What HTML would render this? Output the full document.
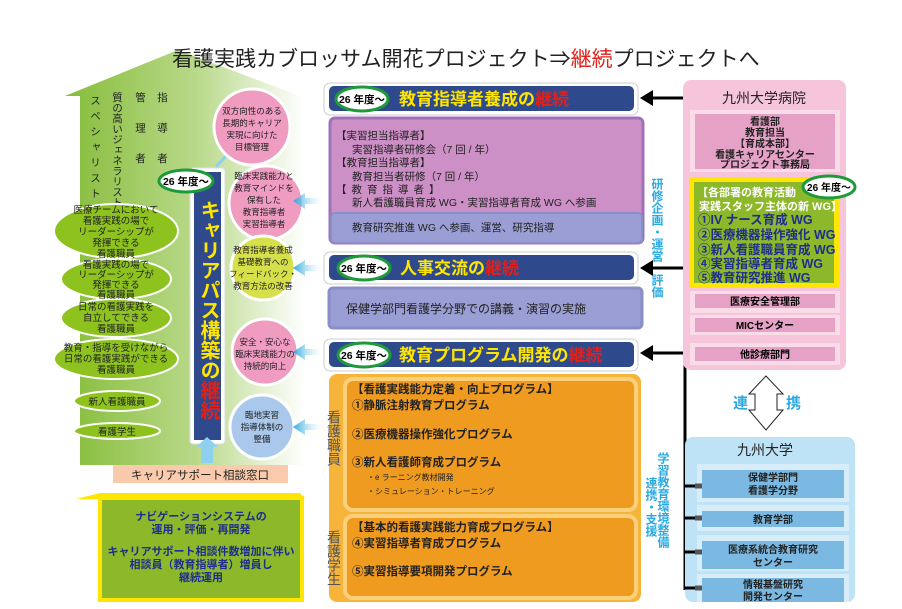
<!DOCTYPE html>
<html><head><meta charset="utf-8">
<style>
html,body{margin:0;padding:0;background:#fff;}
svg{display:block;font-family:"Liberation Sans","Noto Sans CJK JP",sans-serif;}
.b{font-weight:bold}
</style></head>
<body>
<svg width="902" height="609" viewBox="0 0 902 609" xmlns="http://www.w3.org/2000/svg">
<defs>
<linearGradient id="ga" x1="0" x2="1" y1="0" y2="0">
<stop offset="0" stop-color="#86bd3a"/><stop offset="0.55" stop-color="#b9d98a"/><stop offset="1" stop-color="#ffffff"/>
</linearGradient>
<linearGradient id="ar" x1="1" x2="0" y1="0" y2="0">
<stop offset="0" stop-color="#ffffff" stop-opacity="0"/><stop offset="1" stop-color="#29a9e0"/>
</linearGradient>
</defs>

<!-- big arrow -->
<polygon points="178,50 300,96 305,96 305,465 80,465 80,96 65,96" fill="url(#ga)"/>

<!-- title -->
<text x="172" y="66" font-size="21" fill="#222">看護実践カブロッサム開花プロジェクト⇒<tspan fill="#e0201a">継続</tspan>プロジェクトへ</text>

<!-- vertical column texts -->
<g font-size="10.5" fill="#222">
<text x="95" y="95" writing-mode="tb" letter-spacing="5">スペシャリスト</text>
<text x="117" y="92" writing-mode="tb">質の高いジェネラリスト</text>
<text x="140" y="92" writing-mode="tb" letter-spacing="20">管理者</text>
<text x="162" y="92" writing-mode="tb" letter-spacing="20">指導者</text>
</g>

<!-- left ellipses -->
<g stroke="#fff" stroke-width="2" fill="#8dc21f">
<ellipse cx="116" cy="231" rx="62" ry="27"/>
<ellipse cx="116" cy="279" rx="55" ry="20"/>
<ellipse cx="116" cy="318" rx="55" ry="19"/>
<ellipse cx="116" cy="359" rx="62" ry="20"/>
<ellipse cx="117" cy="401" rx="43" ry="10"/>
<ellipse cx="117" cy="431" rx="43" ry="8"/>
</g>
<g font-size="9.5" fill="#222" text-anchor="middle">
<text x="116" y="213">医療チームにおいて</text><text x="116" y="224">看護実践の場で</text><text x="116" y="235">リーダーシップが</text><text x="116" y="246">発揮できる</text><text x="116" y="257">看護職員</text>
<text x="116" y="268">看護実践の場で</text><text x="116" y="278">リーダーシップが</text><text x="116" y="288">発揮できる</text><text x="116" y="298">看護職員</text>
<text x="116" y="310">日常の看護実践を</text><text x="116" y="321">自立してできる</text><text x="116" y="332">看護職員</text>
<text x="116" y="351">教育・指導を受けながら</text><text x="116" y="362">日常の看護実践ができる</text><text x="116" y="373">看護職員</text>
<text x="117" y="405">新人看護職員</text>
<text x="117" y="435">看護学生</text>
</g>

<!-- blue center bar -->
<rect x="190" y="168" width="35" height="276" fill="#fff" rx="3" stroke="#ddd"/>
<rect x="194" y="172" width="27" height="268" fill="#2e4a8c"/>
<text x="208" y="200" writing-mode="tb" font-size="20" class="b" fill="#ffe600">キャリアパス構築の<tspan fill="#e0201a">継続</tspan></text>
<ellipse cx="186" cy="181" rx="27" ry="11" fill="#fff" stroke="#1e9a3a" stroke-width="3"/>
<text x="186" y="185" font-size="10.5" text-anchor="middle" class="b">26 年度〜</text>
<polygon points="201,463 201,447 196,447 207,437 218,447 213,447 213,463" fill="#8fd0f0"/>
<polygon points="215,165 228,152 222,150 237,145 232,160 229,155 217,168" fill="#8fd0f0"/>

<!-- right circles -->
<g stroke="#fff" stroke-width="3">
<circle cx="252" cy="127" r="38" fill="#f09cc0"/>
<circle cx="266" cy="203" r="37" fill="#f09cc0"/>
<circle cx="263" cy="268" r="32" fill="#d6e04a"/>
<circle cx="265" cy="352" r="33" fill="#f09cc0"/>
<circle cx="262" cy="427" r="32" fill="#a9c8ec"/>
</g>
<g font-size="8.5" fill="#222" text-anchor="middle">
<text x="252" y="114">双方向性のある</text><text x="252" y="126">長期的キャリア</text><text x="252" y="138">実現に向けた</text><text x="252" y="150">目標管理</text>
<text x="264" y="179">臨床実践能力と</text><text x="264" y="191">教育マインドを</text><text x="264" y="203">保有した</text><text x="264" y="215">教育指導者</text><text x="264" y="227">実習指導者</text>
<text x="263" y="253">教育指導者養成</text><text x="263" y="265">基礎教育への</text><text x="263" y="277">フィードバック・</text><text x="263" y="289">教育方法の改善</text>
<text x="265" y="345">安全・安心な</text><text x="265" y="357">臨床実践能力の</text><text x="265" y="369">持続的向上</text>
<text x="262" y="418">臨地実習</text><text x="262" y="430">指導体制の</text><text x="262" y="442">整備</text>
</g>
<g fill="url(#ar)">
<polygon points="325,204 305,204 305,209 293,201 305,193 305,198 325,198"/>
<polygon points="325,271 305,271 305,276 293,268 305,260 305,265 325,265"/>
<polygon points="325,355 305,355 305,360 293,352 305,344 305,349 325,349"/>
<polygon points="325,430 305,430 305,435 293,427 305,419 305,424 325,424"/>
</g>

<!-- career support -->
<rect x="113" y="465" width="175" height="18" fill="#f9cbac"/>
<text x="200" y="479" font-size="11.5" text-anchor="middle" fill="#222">キャリアサポート相談窓口</text>

<!-- house -->
<polygon points="76,499 100,493 300,493 305,499" fill="#ffe600"/>
<rect x="100" y="498" width="202" height="102" fill="#8cb82a" stroke="#ffe600" stroke-width="4"/>
<g font-size="11" class="b" fill="#1e2e8c" text-anchor="middle">
<text x="201" y="520">ナビゲーションシステムの</text><text x="201" y="533">運用・評価・再開発</text>
<text x="201" y="555">キャリアサポート相談件数増加に伴い</text><text x="201" y="568">相談員（教育指導者）増員し</text><text x="201" y="581">継続運用</text>
</g>

<!-- middle column headers -->
<g>
<rect x="324" y="83" width="314" height="32" rx="6" fill="#fff" stroke="#ccc"/>
<rect x="329" y="86" width="305" height="25" rx="5" fill="#2e4a8c"/>
<rect x="324" y="252" width="314" height="32" rx="6" fill="#fff" stroke="#ccc"/>
<rect x="329" y="255" width="305" height="25" rx="5" fill="#2e4a8c"/>
<rect x="324" y="339" width="314" height="32" rx="6" fill="#fff" stroke="#ccc"/>
<rect x="329" y="342" width="305" height="25" rx="5" fill="#2e4a8c"/>
</g>
<g fill="#fff" stroke="#1e9a3a" stroke-width="3">
<ellipse cx="362" cy="99" rx="26" ry="12"/>
<ellipse cx="364" cy="268" rx="26" ry="12"/>
<ellipse cx="364" cy="355" rx="26" ry="12"/>
</g>
<g font-size="10.5" class="b" text-anchor="middle">
<text x="362" y="103">26 年度〜</text><text x="364" y="272">26 年度〜</text><text x="364" y="359">26 年度〜</text>
</g>
<g font-size="17" class="b" fill="#ffe600">
<text x="399" y="105">教育指導者養成の<tspan fill="#e0201a">継続</tspan></text>
<text x="400" y="274">人事交流の<tspan fill="#e0201a">継続</tspan></text>
<text x="399" y="361">教育プログラム開発の<tspan fill="#e0201a">継続</tspan></text>
</g>

<!-- pink box -->
<rect x="330" y="118" width="313" height="125" rx="5" fill="#cc8fc6" stroke="#a070b8" stroke-width="3"/>
<rect x="331" y="213" width="311" height="30" rx="4" fill="#9a9ed4" stroke="#8a8ec8" stroke-width="2"/>
<g font-size="10.5" fill="#222">
<text x="336" y="139">【実習担当指導者】</text>
<text x="352" y="153">実習指導者研修会（7 回 / 年）</text>
<text x="336" y="166">【教育担当指導者】</text>
<text x="352" y="180">教育担当者研修（7 回 / 年）</text>
<text x="336" y="193" letter-spacing="5">【教育指導者】</text>
<text x="352" y="206">新人看護職員育成 WG・実習指導者育成 WG へ参画</text>
<text x="352" y="231">教育研究推進 WG へ参画、運営、研究指導</text>
</g>

<!-- lavender box -->
<rect x="329" y="288" width="313" height="40" rx="4" fill="#9a9ed4" stroke="#8a8ec8" stroke-width="3"/>
<text x="346" y="313" font-size="12" fill="#222">保健学部門看護学分野での講義・演習の実施</text>

<!-- orange box -->
<rect x="329" y="374" width="312" height="228" rx="8" fill="#f6b53a"/>
<rect x="345" y="379" width="291" height="131" rx="8" fill="#ef9b20" stroke="#fbd07a" stroke-width="4"/>
<rect x="345" y="516" width="291" height="82" rx="8" fill="#ef9b20" stroke="#fbd07a" stroke-width="4"/>
<g font-size="14" fill="#555">
<text x="334" y="410" writing-mode="tb">看護職員</text>
<text x="334" y="530" writing-mode="tb">看護学生</text>
</g>
<g font-size="11.5" class="b" fill="#222">
<text x="352" y="393">【看護実践能力定着・向上プログラム】</text>
<text x="352" y="409">①静脈注射教育プログラム</text>
<text x="352" y="438">②医療機器操作強化プログラム</text>
<text x="352" y="466">③新人看護師育成プログラム</text>
<text x="352" y="531">【基本的看護実践能力育成プログラム】</text>
<text x="352" y="547">④実習指導者育成プログラム</text>
<text x="352" y="575">⑤実習指導要項開発プログラム</text>
</g>
<g font-size="8" fill="#222">
<text x="367" y="480">・e ラーニング教材開発</text>
<text x="367" y="494">・シミュレーション・トレーニング</text>
</g>

<!-- vertical cyan labels -->
<g font-size="12" class="b" fill="#29a9e0">
<text x="657" y="178" writing-mode="tb">研修企画・運営・評価</text>
<text x="663" y="452" writing-mode="tb">学習教育環境整備</text>
<text x="651" y="477" writing-mode="tb">連携・支援</text>
</g>

<!-- black connector -->
<g stroke="#000" stroke-width="3" fill="none">
<line x1="685" y1="98" x2="685" y2="590"/>
<line x1="650" y1="98" x2="685" y2="98"/>
<line x1="650" y1="268" x2="685" y2="268"/>
<line x1="650" y1="353" x2="685" y2="353"/>
<line x1="685" y1="140" x2="697" y2="140"/>
<line x1="685" y1="232" x2="697" y2="232"/>
<line x1="685" y1="300" x2="697" y2="300"/>
<line x1="685" y1="325" x2="697" y2="325"/>
<line x1="685" y1="355" x2="697" y2="355"/>
</g>
<g fill="#000">
<polygon points="640,98 653,90 653,106"/>
<polygon points="640,268 653,260 653,276"/>
<polygon points="640,353 653,345 653,361"/>
</g>

<!-- hospital -->
<rect x="683" y="80" width="163" height="290" rx="8" fill="#f6c5dc"/>
<text x="764" y="103" font-size="14" text-anchor="middle" fill="#222">九州大学病院</text>
<rect x="690" y="110" width="150" height="62" fill="#f9dce8"/>
<rect x="695" y="114" width="140" height="55" fill="#e6a2c6"/>
<g font-size="10" class="b" fill="#222" text-anchor="middle">
<text x="765" y="125">看護部</text><text x="765" y="136">教育担当</text><text x="765" y="147">【育成本部】</text><text x="765" y="158">看護キャリアセンター</text><text x="765" y="168">プロジェクト事務局</text>
</g>
<rect x="689" y="177" width="150" height="111" fill="#ffe600"/>
<rect x="694" y="182" width="140" height="101" fill="#8cb82a"/>
<g font-size="11" class="b" fill="#fff">
<text x="697" y="196">【各部署の教育活動</text><text x="699" y="210">実践スタッフ主体の新 WG】</text>
</g>
<g font-size="12.5" class="b" fill="#1e2e8c">
<text x="698" y="224">①IV ナース育成 WG</text>
<text x="698" y="239">②医療機器操作強化 WG</text>
<text x="698" y="254">③新人看護職員育成 WG</text>
<text x="698" y="268">④実習指導者育成 WG</text>
<text x="698" y="282">⑤教育研究推進 WG</text>
</g>
<ellipse cx="829" cy="187" rx="26" ry="11" fill="#fff" stroke="#1e9a3a" stroke-width="3"/>
<text x="829" y="191" font-size="10" class="b" text-anchor="middle">26 年度〜</text>
<rect x="690" y="291" width="150" height="22" fill="#f9dce8"/>
<rect x="695" y="294" width="140" height="14" fill="#e6a2c6"/>
<text x="765" y="305" font-size="10" class="b" text-anchor="middle">医療安全管理部</text>
<rect x="690" y="315" width="150" height="20" fill="#f9dce8"/>
<rect x="695" y="318" width="140" height="14" fill="#e6a2c6"/>
<text x="765" y="329" font-size="10" class="b" text-anchor="middle">MICセンター</text>
<rect x="690" y="343" width="150" height="22" fill="#f9dce8"/>
<rect x="695" y="347" width="140" height="14" fill="#e6a2c6"/>
<text x="765" y="358" font-size="10" class="b" text-anchor="middle">他診療部門</text>

<!-- double arrow -->
<polygon points="766,376 783,394 777,394 777,410 783,410 766,430 749,410 755,410 755,394 749,394" fill="#fff" stroke="#222" stroke-width="1"/>
<text x="733" y="408" font-size="15" class="b" fill="#29a9e0">連</text>
<text x="786" y="408" font-size="15" class="b" fill="#29a9e0">携</text>

<!-- Kyushu University -->
<rect x="685" y="437" width="170" height="165" rx="8" fill="#bfe3f6"/>
<text x="765" y="455" font-size="14" text-anchor="middle" fill="#222">九州大学</text>
<rect x="697" y="464" width="152" height="38" fill="#d7eefa"/>
<rect x="702" y="470" width="142" height="28" fill="#7bb9e2"/>
<rect x="697" y="505" width="152" height="26" fill="#d7eefa"/>
<rect x="702" y="511" width="142" height="16" fill="#7bb9e2"/>
<rect x="697" y="535" width="152" height="36" fill="#d7eefa"/>
<rect x="702" y="541" width="142" height="28" fill="#7bb9e2"/>
<rect x="697" y="574" width="152" height="28" fill="#d7eefa"/>
<rect x="702" y="578" width="142" height="24" fill="#7bb9e2"/>
<g font-size="10" class="b" fill="#222" text-anchor="middle">
<text x="773" y="481">保健学部門</text><text x="773" y="494">看護学分野</text>
<text x="773" y="523">教育学部</text>
<text x="773" y="553">医療系統合教育研究</text><text x="773" y="566">センター</text>
<text x="773" y="588">情報基盤研究</text><text x="773" y="600">開発センター</text>
</g>
<g stroke="#000" stroke-width="3">
<line x1="685" y1="486" x2="695" y2="486"/><line x1="685" y1="518" x2="695" y2="518"/>
<line x1="685" y1="552" x2="695" y2="552"/><line x1="685" y1="588" x2="695" y2="588"/>
</g>
<g stroke="#555" stroke-width="5">
<line x1="695" y1="486" x2="702" y2="486"/><line x1="695" y1="518" x2="702" y2="518"/>
<line x1="695" y1="552" x2="702" y2="552"/><line x1="695" y1="588" x2="702" y2="588"/>
</g>
</svg>
</body></html>
